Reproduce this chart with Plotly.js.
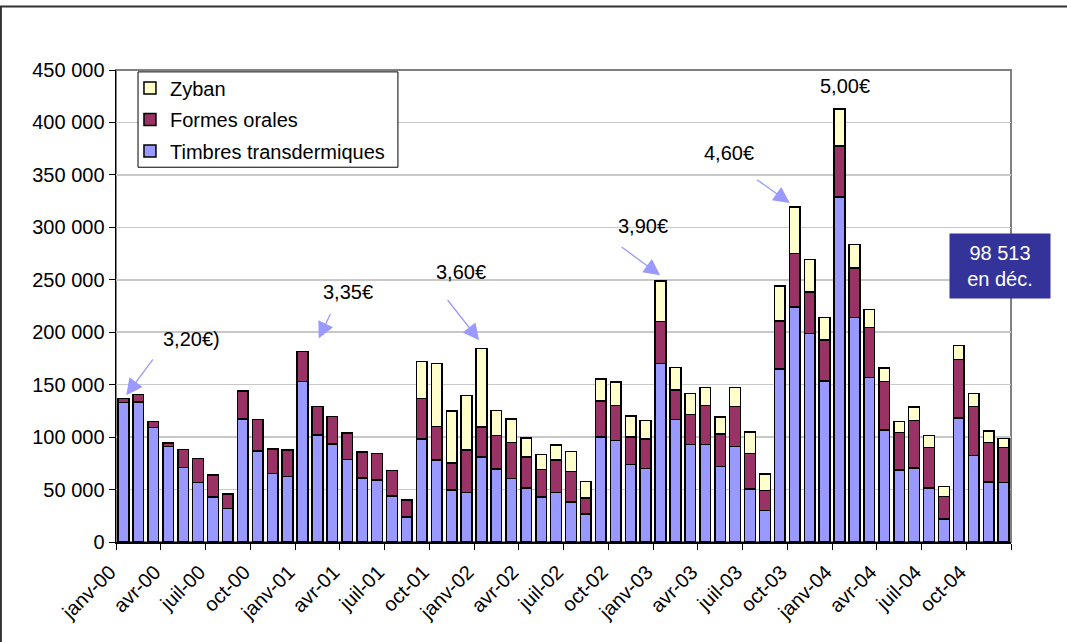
<!DOCTYPE html>
<html>
<head>
<meta charset="utf-8">
<script src="https://cdn.plot.ly/plotly-3.0.1.min.js"></script>
<style>html,body{margin:0;padding:0;background:#fff;}#chart{width:1067px;height:642px;}</style>
</head>
<body>
<div id="chart"></div>
<script>
// 60 months: janv-00 .. déc-04
var months = ['janv-00','févr-00','mars-00','avr-00','mai-00','juin-00','juil-00','août-00','sept-00','oct-00','nov-00','déc-00',
  'janv-01','févr-01','mars-01','avr-01','mai-01','juin-01','juil-01','août-01','sept-01','oct-01','nov-01','déc-01',
  'janv-02','févr-02','mars-02','avr-02','mai-02','juin-02','juil-02','août-02','sept-02','oct-02','nov-02','déc-02',
  'janv-03','févr-03','mars-03','avr-03','mai-03','juin-03','juil-03','août-03','sept-03','oct-03','nov-03','déc-03',
  'janv-04','févr-04','mars-04','avr-04','mai-04','juin-04','juil-04','août-04','sept-04','oct-04','nov-04','déc-04'];

var timbres = [133000,133500,109000,91000,71000,56500,43000,32000,117500,87000,65500,62500,
  153000,102000,93500,78500,61000,59000,44000,24000,98000,78000,49500,47000,
  81000,69500,60500,51500,43000,47000,38000,26500,100000,97000,74000,70000,
  170000,117000,93000,93000,72000,91000,50500,30000,165000,224000,199000,153500,
  329000,214000,157000,107000,68500,70500,51500,22000,118000,82500,57000,56500];

var orales = [4000,7000,6000,3500,17000,23000,21000,14000,26500,30000,23000,25000,
  28500,27000,26000,25500,25000,25500,24000,16000,39000,32000,26000,40500,
  28500,32000,34500,29500,26000,31000,29000,15500,34500,33000,26000,28000,
  40000,28000,28500,37000,31000,38000,34000,19000,45500,51000,39500,39000,
  48500,47000,47500,46000,36000,45500,38500,21500,56000,46500,38000,33500];

var zyban = [0,0,0,0,0,0,0,0,0,0,0,0,
  0,0,0,0,0,0,0,0,35000,60000,49500,52000,
  75000,24000,22500,18000,14500,14500,19500,15500,21000,22500,20000,18000,
  39000,21500,20000,17500,16000,18500,20500,16000,33500,44500,31000,21500,
  35500,22500,17000,13000,10500,12500,11500,9500,13500,12500,11000,8513];

var tickLabels = ['janv-00','avr-00','juil-00','oct-00','janv-01','avr-01','juil-01','oct-01',
  'janv-02','avr-02','juil-02','oct-02','janv-03','avr-03','juil-03','oct-03',
  'janv-04','avr-04','juil-04','oct-04',''];

var yTickVals = [0,50000,100000,150000,200000,250000,300000,350000,400000,450000];
var yTickText = ['0','50 000','100 000','150 000','200 000','250 000','300 000','350 000','400 000','450 000'];

// price annotations
var prices = ['3,20€)','3,35€','3,60€','3,90€','4,60€','5,00€'];

var xIdx = months.map(function(m,i){return i;});
var tickPos = tickLabels.map(function(t,i){return i*3-0.5;});

var FONT = 'Liberation Sans, Arial, sans-serif';
var lineStyle = {color:'#000000', width:1.5};

var traces = [
  {type:'bar', name:'Timbres transdermiques', x:xIdx, y:timbres, legendrank:3, legendgroup:'t',
   marker:{color:'#9999FF', line:lineStyle}, hovertext:months},
  {type:'bar', name:'Formes orales', x:xIdx, y:orales, legendrank:2, legendgroup:'o',
   marker:{color:'#993366', line:lineStyle}, hovertext:months},
  {type:'bar', name:'Zyban', x:xIdx, y:zyban, legendrank:1, legendgroup:'z',
   marker:{color:'#FFFFCC', line:lineStyle}, hovertext:months}
];

function arrow(x, y, ax, ay){
  return {x:x, y:y, xref:'x', yref:'y', text:'', showarrow:true, arrowhead:2, arrowsize:2.5,
    arrowwidth:1.3, arrowcolor:'#9999FF', ax:ax, ay:ay, standoff:0};
}
function label(t, x, y){
  return {x:x, y:y, xref:'x', yref:'y', text:t, showarrow:false, xanchor:'center', yanchor:'middle',
    font:{family:FONT, size:20, color:'#000'}};
}

var annotations = [
  label(prices[0], 4.57, 193300),
  label(prices[1], 15.02, 238600),
  label(prices[2], 22.65, 257600),
  label(prices[3], 34.81, 301400),
  label(prices[4], 40.62, 371000),
  label(prices[5], 48.38, 434800),
  arrow(0.19, 140000, 27.7, -37.3),
  arrow(13.09, 194000, 12.4, -26),
  arrow(23.84, 192400, -32.6, -41.7),
  arrow(35.98, 254300, -40, -29.3),
  arrow(44.67, 323200, -34.3, -24.4),
  {x:0.9877, y:0.5847, xref:'paper', yref:'paper', xanchor:'center', yanchor:'middle',
   text:'98 513<br>en déc.', showarrow:false,
   bgcolor:'#333399', width:100, height:64, borderpad:0,
   font:{family:FONT, size:20, color:'#FFFFFF'}}
];

var shapes = [
  // outer frame
  {type:'rect', xref:'paper', yref:'paper', x0:-0.1286, x1:1.08, y0:-0.25, y1:1.1345,
   line:{color:'#333333', width:2}, layer:'below'},
  // plot area border
  {type:'rect', xref:'paper', yref:'paper', x0:0, x1:1, y0:0, y1:1,
   line:{color:'#808080', width:2}, layer:'below'},
  // legend box
  {type:'rect', xref:'paper', yref:'paper', x0:0.0246, x1:0.315, y0:0.794, y1:0.996,
   line:{color:'#000000', width:1}, fillcolor:'#FFFFFF', layer:'above'}
];

var layout = {
  width:1067, height:642, autosize:false,
  paper_bgcolor:'#FFFFFF', plot_bgcolor:'#FFFFFF',
  margin:{l:116, r:56, t:70, b:100, pad:0},
  barmode:'stack', bargap:0.28,
  font:{family:FONT, size:20, color:'#000'},
  showlegend:true,
  legend:{x:0.0156, y:1.003, xanchor:'left', yanchor:'top', traceorder:'grouped',
    tracegroupgap:2.5, bgcolor:'rgba(0,0,0,0)', borderwidth:0,
    font:{family:FONT, size:20, color:'#000'}},
  xaxis:{range:[-0.5,59.5], tickmode:'array', tickvals:tickPos, ticktext:tickLabels,
    tickangle:-45, ticks:'outside', ticklen:6, tickcolor:'#000', showgrid:false,
    showline:true, linecolor:'#000', linewidth:1.5, zeroline:false,
    ticklabelshift:-6, ticklabelstandoff:3,
    tickfont:{family:FONT, size:20, color:'#000'}},
  yaxis:{range:[0,450000], tickmode:'array', tickvals:yTickVals, ticktext:yTickText,
    ticks:'outside', ticklen:6, tickcolor:'#000', showgrid:true, gridcolor:'#C8C8C8', gridwidth:1.5,
    showline:true, linecolor:'#000', linewidth:1.5, zeroline:false,
    tickfont:{family:FONT, size:20, color:'#000'}},
  shapes:shapes,
  annotations:annotations
};

Plotly.newPlot('chart', traces, layout, {displayModeBar:false, staticPlot:true});
</script>
</body>
</html>
